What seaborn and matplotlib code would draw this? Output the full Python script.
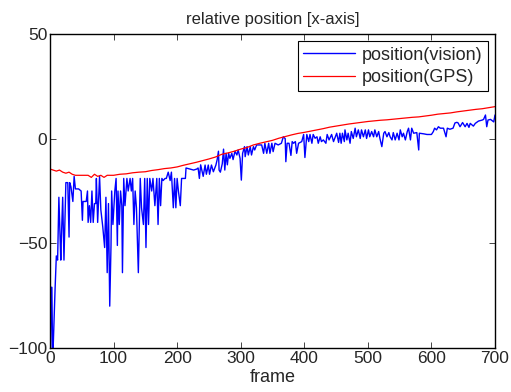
import matplotlib
matplotlib.use("Agg")
import matplotlib.pyplot as plt
import seaborn as sns
import pandas as pd

# values
vision_frame = [0, 1, 2, 3, 4, 5, 8, 10, 12, 14, 17, 18, 20, 22, 25, 28, 30, 31, 33, 36,
                38, 40, 45, 49, 51, 52, 57, 59, 60, 62, 64, 66, 68, 70, 72, 73, 75, 78, 80, 83,
                86, 88, 90, 92, 94, 96, 97, 99, 102, 104, 106, 107, 109, 111, 113, 114, 116, 118, 121, 123,
                126, 128, 130, 132, 134, 136, 139, 142, 144, 147, 149, 151, 153, 155, 157, 160, 162, 165, 168, 170,
                172, 174, 176, 178, 181, 183, 186, 189, 191, 194, 196, 198, 200, 202, 205, 207, 210, 213, 214, 220,
                226, 231, 233, 235, 237, 241, 244, 246, 249, 251, 254, 257, 261, 263, 265, 266, 268, 271, 273, 275,
                277, 279, 281, 283, 286, 288, 291, 294, 296, 299, 301, 303, 306, 307, 310, 312, 315, 317, 320, 322,
                325, 333, 336, 338, 341, 344, 346, 349, 351, 354, 359, 364, 367, 370, 371, 373, 376, 379, 381, 383,
                386, 388, 391, 396, 399, 401, 404, 407, 409, 412, 414, 417, 420, 422, 425, 427, 430, 434, 436, 439,
                443, 446, 451, 454, 456, 458, 460, 463, 464, 467, 469, 472, 474, 477, 480, 482, 485, 488, 490, 493,
                496, 498, 501, 503, 506, 509, 511, 514, 517, 519, 522, 525, 527, 530, 533, 535, 538, 540, 543, 546,
                549, 551, 554, 556, 559, 562, 564, 567, 569, 572, 577, 580, 581, 588, 593, 600, 603, 605, 608, 611,
                614, 619, 623, 625, 629, 634, 637, 640, 642, 645, 649, 653, 656, 659, 661, 666, 669, 672, 674, 680,
                682, 685, 687, 689, 693, 698, 700]
vision_pos = [-100, -100, -71, -71, -100, -100, -72, -56, -58, -28, -58, -47, -28, -58, -21, -21, -47, -21, -23, -30,
              -18, -24, -24, -25, -39, -30, -30, -25, -40, -32, -40, -25, -40, -31, -31, -19, -40, -18, -34, -42,
              -52, -28, -64, -31, -80, -51, -25, -41, -25, -19, -51, -25, -41, -25, -32, -64, -19, -32, -19, -25,
              -19, -25, -19, -41, -25, -33, -64, -19, -33, -41, -19, -52, -19, -41, -19, -25, -19, -32, -19, -41,
              -19, -32, -19, -20, -19, -19, -16, -20, -16, -33, -19, -33, -19, -25, -32, -19, -19, -19, -14, -14.5,
              -15, -14.5, -14, -19, -12.5, -18, -12.6, -17, -12.6, -17, -12.6, -15.8, -12.6, -10, -6, -15, -16, -12, -5, -15,
              -7, -12.5, -7, -9.4, -7, -10, -6, -7.8, -5.4, -9.4, -19.8, -7, -3.8, -8.6, -3.8, -7.8, -3.8, -7.8, -3.8, -5.4,
              -3, -3, -7, -2.2, -7, -2.2, -7, -2.2, -6.2, -2.2, -3, -2.2, 0.9, 0, -11, -2.2, -2.2, -8, -1.4, -2.2,
              -1.4, -7, -2.2, -1.4, 2, -9, 2, -1.4, 2, -2.2, 2, 0.2, 0.9, -2.2, 0.9, -1.4, -0.6, -2.2, 2, -0.6,
              2, -1.4, 2.6, -1.8, 2.6, -2.2, 2.6, -1.4, 4.2, -0.6, 2.6, -2.2, 3.4, 0.1, 5, 0.9, 4.2, 0.1, 4.2, 0.9,
              4.2, 0.1, 4.2, 0.9, 3.4, 0.9, 4.2, 0.9, 3.4, 0.1, -3.8, 2.6, 3.4, 0.9, 2.9, 0.9, -0.6, 2.9, -0.6, 2.6,
              -0.6, 4.2, 0.9, 2.6, -0.6, 3.4, 5, -0.6, 5, 2.6, 2.9, -5.4, 2.6, 2.3, 2, 2, 3.4, 5, 4.2, 5.7,
              5, 5, 0.9, 5, 4.5, 5, 7.5, 7.8, 7.5, 5.7, 7.7, 5.7, 7.3, 5.4, 7.3, 6, 7.3, 8, 8.4, 8.9,
              9.2, 11.3, 5.7, 8.9, 9.2, 8, 11.3]

gps_frame = [0, 5, 10, 15, 20, 25, 30, 35, 40, 50, 60, 65, 70, 75, 80, 85, 90, 100, 110, 120,
             130, 140, 150, 160, 170, 180, 190, 200, 210, 220, 230, 240, 250, 260, 270, 280, 290, 300, 310, 320,
             330, 340, 350, 360, 370, 380, 390, 400, 410, 420, 430, 440, 450, 460, 470, 480, 490, 500, 510, 520,
             530, 540, 550, 560, 570, 580, 590, 600, 610, 620, 630, 640, 650, 660, 670, 680, 690, 700]
gps_pos = [-14.5, -15, -15.5, -15, -16, -16.5, -16, -17, -17.5, -17.5, -17.5, -18.5, -17, -18, -17.5, -18.5, -17.5, -17.5, -17, -16.8,
           -16.3, -16, -15.8, -15.2, -14.8, -14.3, -14, -13.5, -12.7, -12, -11.3, -10.5, -9.7, -8.8, -7.5, -6.8, -6, -5, -4.2, -3,
           -2.2, -1.5, -0.8, 0.2, 1, 1.8, 2.5, 3, 3.6, 4.2, 4.8, 5.5, 6, 6.5, 7, 7.4, 7.8, 8.2, 8.5, 8.8,
           9, 9.3, 9.6, 9.9, 10.2, 10.4, 10.8, 11.2, 11.7, 12, 12.3, 12.8, 13.2, 13.6, 14, 14.3, 14.8, 15.3]

vision = pd.DataFrame({'frame': vision_frame, 'pos': vision_pos})
gps = pd.DataFrame({'frame': gps_frame, 'pos': gps_pos})

sns.set_style('ticks')
plt.rcParams['font.family'] = ['Liberation Sans', 'DejaVu Sans']
plt.rcParams['xtick.direction'] = 'in'
plt.rcParams['ytick.direction'] = 'in'

fig = plt.figure(figsize=(5.11, 3.92), dpi=100)
ax = fig.add_axes([0.0978, 0.1122, 0.8709, 0.8011])

sns.lineplot(data=vision, x='frame', y='pos', color='#0000ff', linewidth=1.0,
             estimator=None, sort=False, label='position(vision)', ax=ax)
sns.lineplot(data=gps, x='frame', y='pos', color='#ff0000', linewidth=0.9,
             estimator=None, sort=False, label='position(GPS)', ax=ax)

ax.set_xlim(0, 700)
ax.set_ylim(-100, 50)
ax.set_xticks(range(0, 701, 100))
ax.set_yticks([-100, -50, 0, 50])
ax.tick_params(labelsize=12.5, length=4, width=0.6, top=True, right=True, pad=2)
for s in ax.spines.values():
    s.set_linewidth(1.0)
    s.set_color('black')

ax.set_title('relative position [x-axis]', fontsize=12, pad=7)
ax.set_xlabel('frame', fontsize=13, labelpad=2)
ax.set_ylabel('')

leg = ax.legend(loc='upper right', fontsize=13, fancybox=False, framealpha=1,
                edgecolor='black', borderaxespad=0.4, handlelength=2.9,
                handletextpad=0.35, borderpad=0.3, labelspacing=0.3)
leg.get_frame().set_linewidth(0.8)

fig.savefig('out.png', dpi=100)
